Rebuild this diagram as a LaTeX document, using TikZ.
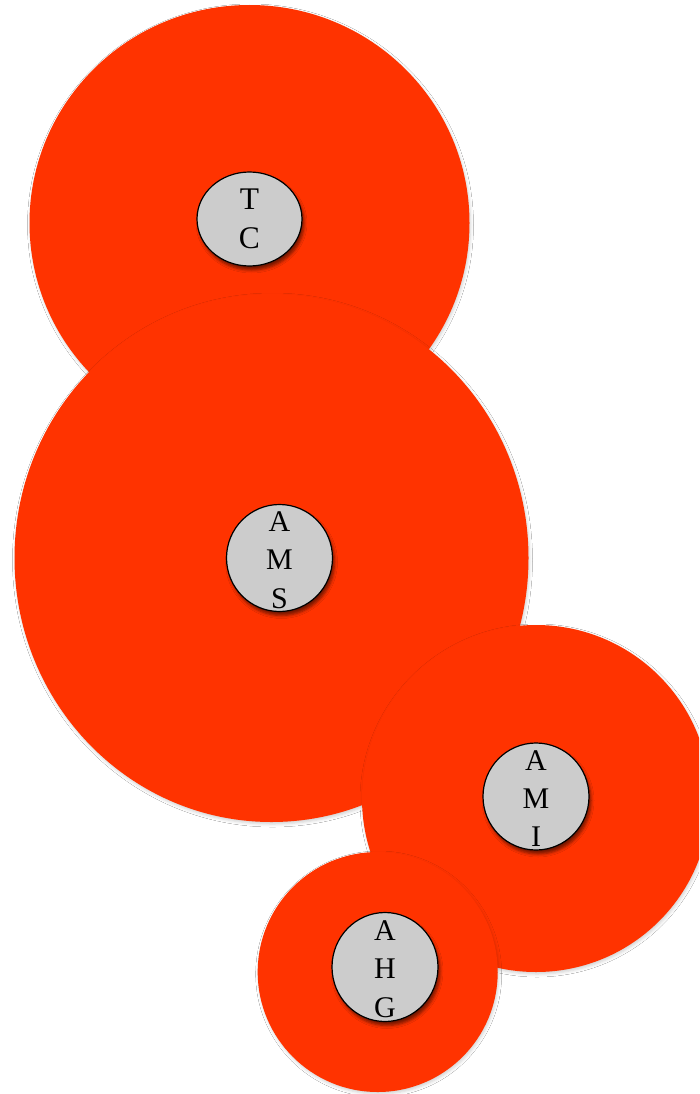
\documentclass[tikz,border=0pt]{standalone}
\usepackage{fontspec}
\setmainfont{Liberation Serif}
\usetikzlibrary{shapes.geometric,shadows.blur}
\definecolor{zonered}{HTML}{FF3300}
\definecolor{tokgray}{HTML}{CCCCCC}
\tikzset{
  zone/.style={ellipse, fill=zonered, draw=none, inner sep=0pt,
    blur shadow={shadow xshift=1pt, shadow yshift=-2pt, shadow blur radius=3pt, shadow opacity=18}},
  token/.style={ellipse, fill=tokgray, draw=black, line width=1.2pt, inner sep=0pt,
    blur shadow={shadow xshift=2pt, shadow yshift=-4pt, shadow blur radius=3pt, shadow opacity=55}},
  toktext/.style={inner sep=0pt, align=center, font=\fontsize{30}{38.3}\selectfont}
}
\begin{document}
\begin{tikzpicture}[x=1pt,y=-1pt]
\clip (0,0) rectangle (699,1094);
\fill[white] (0,0) rectangle (699,1094);
% large zones
\node[zone, minimum width=440pt, minimum height=436pt] (zTC) at (249.5,223) {};
\node[zone, minimum width=514pt, minimum height=528pt] (zAMS) at (271.5,558) {};
\node[zone, minimum width=348pt, minimum height=347pt] (zAMI) at (536,798.5) {};
\node[zone, minimum width=240pt, minimum height=240pt] (zAHG) at (377.7,972) {};
% tokens
\node[token, minimum width=105pt, minimum height=94pt] (TC) at (249.5,219) {};
\node[toktext, font=\fontsize{31.5}{39}\selectfont] (TCt) at (TC.center) {T\\C};
\node[token, minimum width=106pt, minimum height=107pt] (AMS) at (279.5,558) {};
\node[toktext] (AMSt) at ([yshift=-2pt]AMS.center) {A\\M\\S};
\node[token, minimum width=106pt, minimum height=107pt] (AMI) at (536,796.5) {};
\node[toktext] (AMIt) at ([yshift=-2pt]AMI.center) {A\\M\\I};
\node[token, minimum width=106pt, minimum height=109pt] (AHG) at (385,967) {};
\node[toktext] (AHGt) at ([yshift=-2pt]AHG.center) {A\\H\\G};
\end{tikzpicture}
\end{document}
